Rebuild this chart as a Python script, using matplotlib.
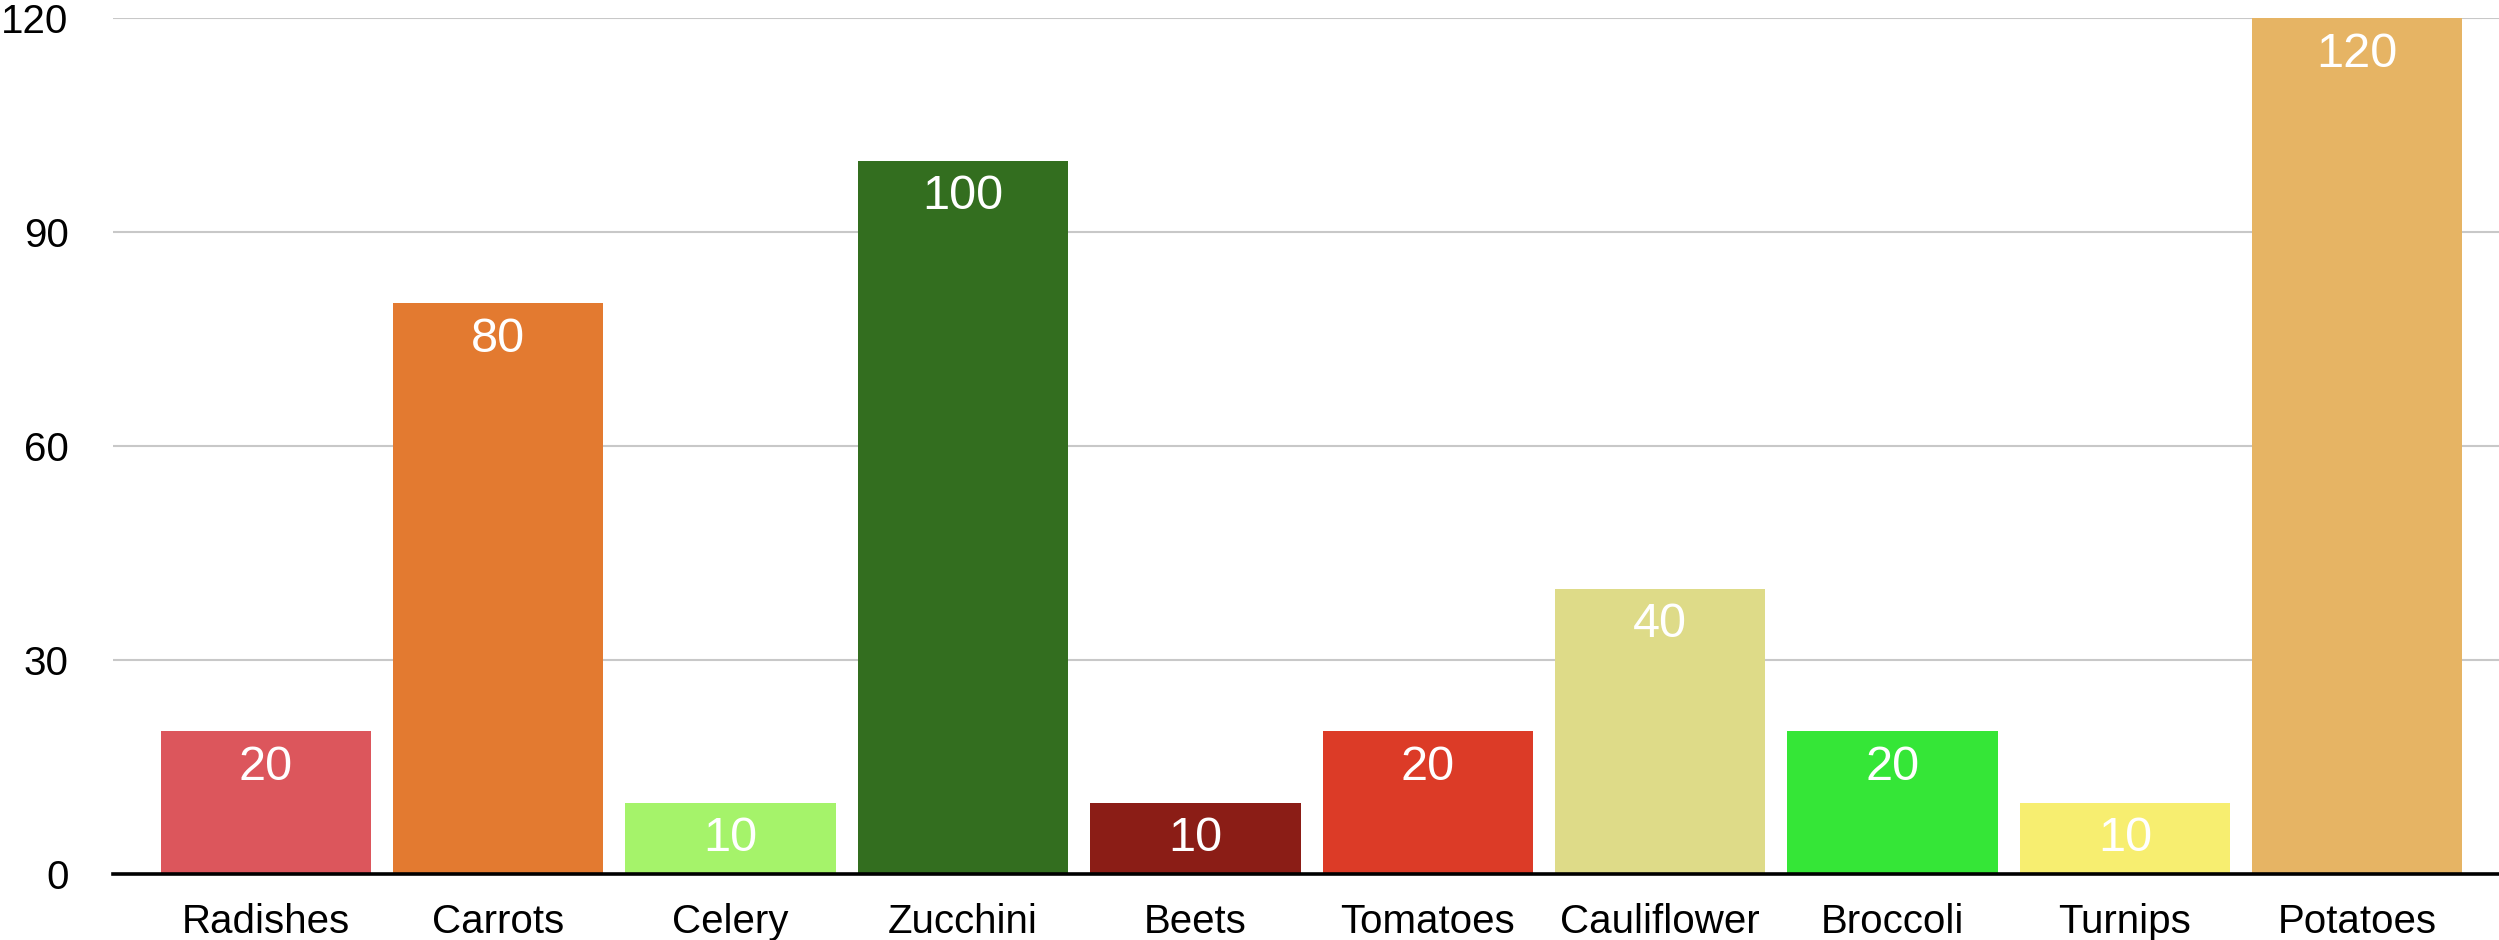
import matplotlib
matplotlib.use("Agg")
import matplotlib.pyplot as plt

categories = ["Radishes", "Carrots", "Celery", "Zucchini", "Beets",
              "Tomatoes", "Cauliflower", "Broccoli", "Turnips", "Potatoes"]
values = [20, 80, 10, 100, 10, 20, 40, 20, 10, 120]
colors = ["#DC565C", "#E37A30", "#A5F36A", "#336E1F", "#8B1D16",
          "#DC3B27", "#DEDB88", "#35E637", "#F7EE70", "#E6B464"]
yticks = [0, 30, 60, 90, 120]

plt.rcParams["font.family"] = ["Liberation Sans", "DejaVu Sans"]

fig = plt.figure(figsize=(24.99, 9.4), dpi=100)
ax = fig.add_axes([0.0452, 0.0702, 0.9548, 0.9106])

x = list(range(len(categories)))
ax.bar(x, values, width=0.905, color=colors, zorder=3)

# value labels inside the top of each bar
for xi, v in zip(x, values):
    ax.annotate(str(v), (xi, v), xytext=(0, -26), textcoords="offset points",
                ha="center", va="center", color="white", fontsize=35, zorder=4)

ax.set_xlim(-0.658, 9.61)
ax.set_ylim(0, 120)
ax.set_yticks(yticks)
ax.set_xticks(x)
ax.set_xticklabels(categories)
ax.tick_params(axis="both", length=0, labelsize=29)
ax.tick_params(axis="y", pad=32)
ax.tick_params(axis="x", pad=21)

ax.grid(axis="y", color="#C8C8C8", linewidth=1.5, zorder=1)
for side in ["top", "right", "left"]:
    ax.spines[side].set_visible(False)
ax.spines["bottom"].set_linewidth(2.6)
ax.spines["bottom"].set_color("black")
ax.spines["bottom"].set_zorder(5)

fig.savefig("out.png", dpi=100)
